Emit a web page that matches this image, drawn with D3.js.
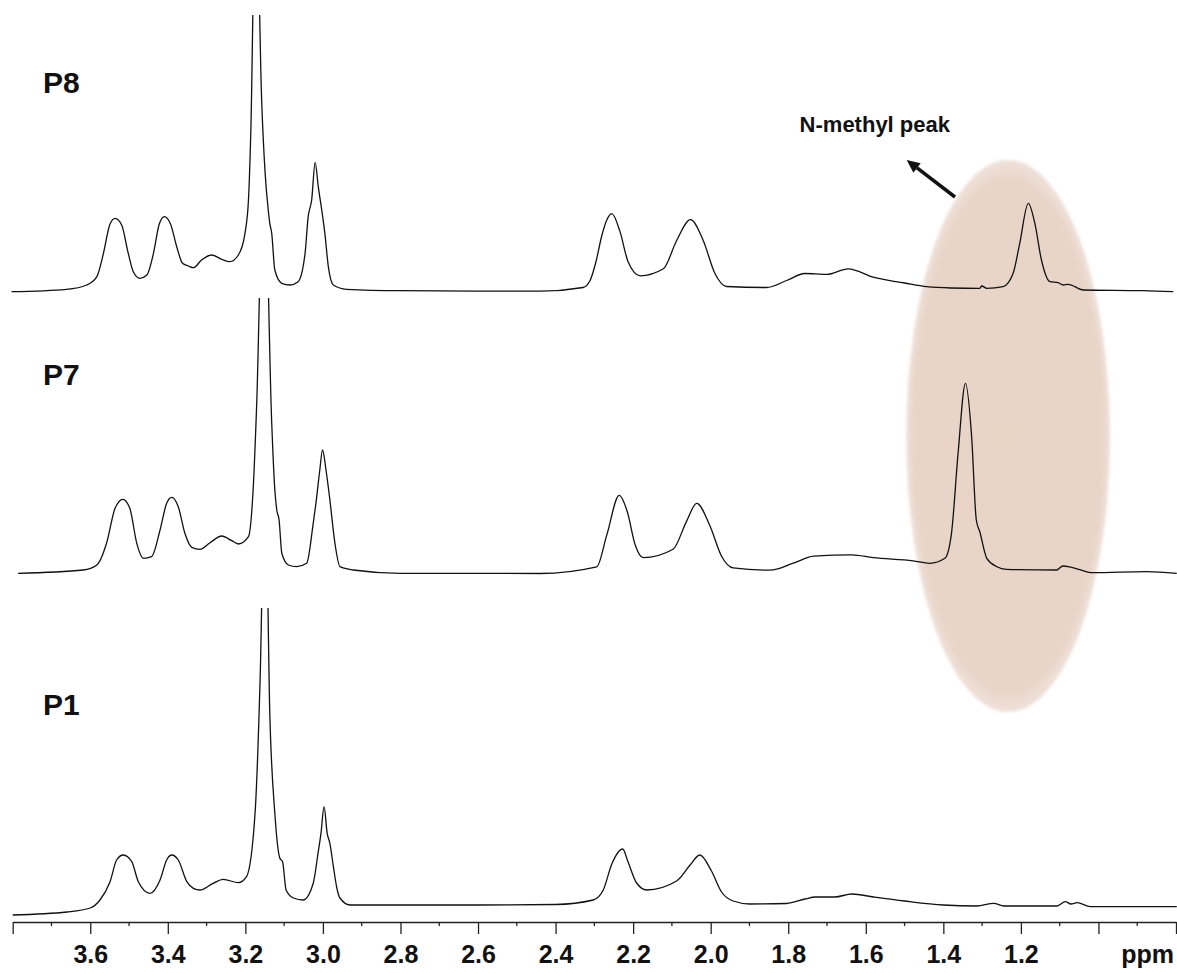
<!DOCTYPE html>
<html>
<head>
<meta charset="utf-8">
<script src="https://cdn.jsdelivr.net/npm/d3@7"></script>
<style>
  body { margin: 0; background: #fff; }
  svg { display: block; font-family: "Liberation Sans", Arial, Helvetica, sans-serif; }
</style>
</head>
<body>
<svg id="chart" width="1177" height="973"></svg>
<script>
// sample names, top to bottom
const sampleNames = ['P8', 'P7', 'P1'];

// ppm axis
const majorTicks = [3.8, 3.6, 3.4, 3.2, 3.0, 2.8, 2.6, 2.4, 2.2, 2.0, 1.8, 1.6, 1.4, 1.2, 1.0, 0.8];
const minorTicks = [3.7, 3.5, 3.3, 3.1, 2.9, 2.7, 2.5, 2.3, 2.1, 1.9, 1.7, 1.5, 1.3, 1.1, 0.9];
const tickLabels = [3.6, 3.4, 3.2, 3.0, 2.8, 2.6, 2.4, 2.2, 2.0, 1.8, 1.6, 1.4, 1.2];

// traced spectra: [ppm, intensity]
const spectrumP8 = [
  [3.803, 0.3], [3.661, 2.7], [3.609, 7], [3.583, 15.3], [3.566, 38.7], [3.549, 68], [3.536, 73.7],
  [3.519, 67], [3.502, 38.7], [3.489, 20.3], [3.472, 13.7], [3.454, 17], [3.437, 38.7], [3.422, 68],
  [3.409, 75.3], [3.393, 68], [3.377, 45.3], [3.362, 28.7], [3.347, 26], [3.334, 24.3], [3.313, 32],
  [3.287, 37], [3.261, 32.7], [3.240, 30.3], [3.218, 37], [3.201, 58.7], [3.192, 92], [3.186, 159],
  [3.173, 420], [3.158, 192], [3.149, 118.7], [3.141, 82], [3.137, 68.7], [3.132, 58.7], [3.124, 22],
  [3.106, 8.7], [3.085, 7], [3.064, 10.3], [3.046, 38.7], [3.038, 75.3], [3.029, 92], [3.020, 129.7],
  [3.012, 105.3], [3.003, 82], [2.995, 58.7], [2.986, 25.3], [2.973, 7], [2.939, 2.7], [2.801, 1.3],
  [2.440, 0.8], [2.329, 4.5], [2.311, 11.5], [2.296, 30], [2.281, 56], [2.268, 72], [2.255, 78.4],
  [2.234, 60.6], [2.213, 30.2], [2.182, 16.2], [2.122, 23.2], [2.088, 51.3], [2.052, 72.3],
  [2.019, 51.3], [1.989, 18.5], [1.959, 5.5], [1.856, 4.5], [1.804, 11.5], [1.757, 18.5],
  [1.701, 17.6], [1.645, 23.2], [1.581, 14.8], [1.50, 9], [1.443, 5.3], [1.38, 4], [1.306, 3.7],
  [1.301, 6], [1.288, 3.7], [1.246, 5.3], [1.220, 18.7], [1.203, 48.7], [1.181, 88.7], [1.164, 68.7],
  [1.147, 32], [1.125, 10.3], [1.104, 9.3], [1.091, 7], [1.078, 7.7], [1.039, 2], [0.885, 1.3],
  [0.807, 0.3]
];

const spectrumP7 = [
  [3.786, 0.7], [3.618, 4], [3.583, 9], [3.558, 30.7], [3.536, 65.7], [3.516, 74.7], [3.498, 65.7],
  [3.480, 30.7], [3.463, 15.7], [3.442, 17.3], [3.420, 44], [3.403, 70.7], [3.390, 76.7], [3.373, 67.3],
  [3.356, 40.7], [3.338, 26.7], [3.317, 24.7], [3.291, 31.3], [3.261, 38], [3.235, 33.3], [3.218, 30],
  [3.192, 37.3], [3.180, 84], [3.171, 167.3], [3.152, 420], [3.132, 150.7], [3.124, 84], [3.119, 64],
  [3.113, 54], [3.106, 20.7], [3.089, 9], [3.068, 7.3], [3.042, 10.7], [3.025, 50.7], [3.018, 70.7],
  [3.008, 104], [3.001, 124], [2.992, 104], [2.982, 74], [2.969, 30.7], [2.956, 7.3], [2.922, 4],
  [2.801, 0.7], [2.440, 0.5], [2.294, 7.1], [2.268, 38.9], [2.236, 78.6], [2.215, 62.2], [2.195, 29.5],
  [2.174, 16.4], [2.097, 24.8], [2.062, 52.9], [2.036, 70.6], [2.002, 48.2], [1.972, 17.8], [1.942, 6.1],
  [1.847, 3.8], [1.787, 10.8], [1.735, 17.8], [1.636, 19.2], [1.581, 16.4], [1.478, 13.2], [1.435, 10.7],
  [1.396, 15.7], [1.379, 40.7], [1.362, 120.7], [1.343, 190.7], [1.327, 137.3], [1.315, 54],
  [1.306, 42.3], [1.288, 15.7], [1.262, 7.3], [1.237, 4.7], [1.108, 4], [1.092, 8], [1.069, 6.7],
  [1.014, 1.3], [0.876, 2.3], [0.798, 0.7]
];

const spectrumP1 = [
  [3.800, -8], [3.660, -5], [3.600, -1], [3.575, 7], [3.549, 25.3], [3.532, 47], [3.515, 52],
  [3.493, 45.3], [3.476, 25.3], [3.446, 13.7], [3.420, 27], [3.403, 47], [3.390, 52], [3.373, 47],
  [3.351, 25.3], [3.334, 18.7], [3.317, 17], [3.283, 23.7], [3.257, 27.7], [3.218, 24.3], [3.197, 30.3],
  [3.175, 93.7], [3.162, 227], [3.149, 440], [3.137, 193.7], [3.124, 93.7], [3.111, 48.7], [3.104, 45.3],
  [3.095, 17], [3.076, 9], [3.051, 7], [3.025, 23.7], [3.012, 55.3], [3.005, 73.7], [2.997, 100.3],
  [2.989, 73.7], [2.982, 63.7], [2.973, 40.3], [2.963, 17], [2.956, 9], [2.930, 2], [2.600, 2],
  [2.400, 2.5], [2.303, 7], [2.277, 17], [2.255, 43], [2.227, 58], [2.213, 45], [2.191, 24],
  [2.165, 17], [2.088, 26], [2.053, 42], [2.028, 52], [1.998, 36], [1.972, 15], [1.942, 6],
  [1.899, 3], [1.804, 3.5], [1.757, 8], [1.730, 10], [1.680, 10], [1.636, 13], [1.580, 10],
  [1.500, 6], [1.400, 2], [1.314, 1], [1.270, 3.7], [1.244, 1], [1.107, 1], [1.085, 5.3],
  [1.071, 3], [1.055, 4.3], [1.021, 0.3], [0.798, 0.3]
];

const spectra = [spectrumP8, spectrumP7, spectrumP1];

function main() {
  var svg = d3.select('#chart');

  var x = d3.scaleLinear().domain([3.8, 0.8]).range([12.7, 1176]);
  // intensity -> offset from each trace's baseline (1 unit = 1 px)
  var y = d3.scaleLinear().domain([0, 100]).range([0, -100]);

  var baselines = [292, 574, 907];
  var clipTops = [15, 298, 608];

  // highlight for the N-methyl peak
  var defs = svg.append('defs');
  defs.append('filter').attr('id', 'soft')
      .append('feGaussianBlur').attr('stdDeviation', 1.5);

  var grad = defs.append('radialGradient').attr('id', 'glow')
      .attr('cx', '50%').attr('cy', '50%').attr('r', '50%');
  grad.append('stop').attr('offset', '0%').attr('stop-color', '#e9d4c6');
  grad.append('stop').attr('offset', '93%').attr('stop-color', '#e9d5c8');
  grad.append('stop').attr('offset', '100%').attr('stop-color', '#efe2da');

  svg.append('ellipse')
      .attr('cx', x(1.233))
      .attr('cy', 436)
      .attr('rx', 102)
      .attr('ry', 276)
      .attr('fill', 'url(#glow)')
      .attr('filter', 'url(#soft)');

  var line = d3.line()
      .x(function(d) { return x(d[0]); })
      .y(function(d) { return y(d[1]); })
      .curve(d3.curveMonotoneX);

  spectra.forEach(function(s, i) {
    defs.append('clipPath').attr('id', 'clip' + i)
      .append('rect')
        .attr('x', 0)
        .attr('y', clipTops[i] - baselines[i])
        .attr('width', 1177)
        .attr('height', 600);

    var g = svg.append('g')
        .attr('transform', 'translate(0,' + baselines[i] + ')');

    g.append('path')
        .datum(s)
        .attr('clip-path', 'url(#clip' + i + ')')
        .attr('d', line)
        .attr('fill', 'none')
        .attr('stroke', '#111')
        .attr('stroke-width', 1.3)
        .attr('stroke-linejoin', 'round');
  });

  // sample labels
  var labelY = [93, 385, 715];
  svg.selectAll('.sample')
      .data(sampleNames)
      .enter().append('text')
        .attr('class', 'sample')
        .attr('x', 43)
        .attr('y', function(d, i) { return labelY[i]; })
        .attr('font-size', 30)
        .attr('font-weight', 'bold')
        .attr('fill', '#111')
        .text(function(d) { return d; });

  // axis
  var axisY = 922;
  var axis = svg.append('g')
      .attr('transform', 'translate(0,' + axisY + ')')
      .call(d3.axisBottom(x)
        .tickValues(majorTicks)
        .tickSize(12)
        .tickSizeOuter(0)
        .tickFormat(function(d) {
          return tickLabels.some(function(t) { return Math.abs(t - d) < 1e-6; }) ? d.toFixed(1) : '';
        }));

  axis.select('.domain').attr('stroke', '#222').attr('stroke-width', 1.3);
  axis.selectAll('.tick line').attr('stroke', '#222').attr('stroke-width', 1.3);
  axis.selectAll('.tick text')
      .attr('y', 41)
      .attr('dy', 0)
      .attr('font-size', 25)
      .attr('font-weight', 'bold')
      .attr('font-family', '"Liberation Sans", Arial, Helvetica, sans-serif')
      .attr('fill', '#111');

  axis.selectAll('.minor')
      .data(minorTicks)
      .enter().append('line')
        .attr('class', 'minor')
        .attr('x1', function(d) { return x(d); })
        .attr('x2', function(d) { return x(d); })
        .attr('y1', 0)
        .attr('y2', 4)
        .attr('stroke', '#222')
        .attr('stroke-width', 1.3);

  svg.append('text')
      .attr('x', 1174)
      .attr('y', axisY + 41)
      .attr('text-anchor', 'end')
      .attr('font-size', 25)
      .attr('font-weight', 'bold')
      .attr('fill', '#111')
      .text('ppm');

  // annotation
  svg.append('text')
      .attr('x', 950)
      .attr('y', 132)
      .attr('text-anchor', 'end')
      .attr('font-size', 22)
      .attr('font-weight', 'bold')
      .attr('fill', '#111')
      .text('N-methyl peak');

  var tip = [906.7, 160], tail = [955, 197];
  var dx = tail[0] - tip[0], dy = tail[1] - tip[1];
  var len = Math.sqrt(dx * dx + dy * dy);
  var ux = dx / len, uy = dy / len;
  var headLen = 13, headW = 6;
  var base = [tip[0] + ux * headLen, tip[1] + uy * headLen];

  svg.append('line')
      .attr('x1', tail[0]).attr('y1', tail[1])
      .attr('x2', base[0]).attr('y2', base[1])
      .attr('stroke', '#111')
      .attr('stroke-width', 3.5);

  svg.append('polygon')
      .attr('points', [
        tip,
        [base[0] - uy * headW, base[1] + ux * headW],
        [base[0] + uy * headW, base[1] - ux * headW]
      ].map(function(p) { return p.join(','); }).join(' '))
      .attr('fill', '#111');
}

main();
</script>
</body>
</html>
